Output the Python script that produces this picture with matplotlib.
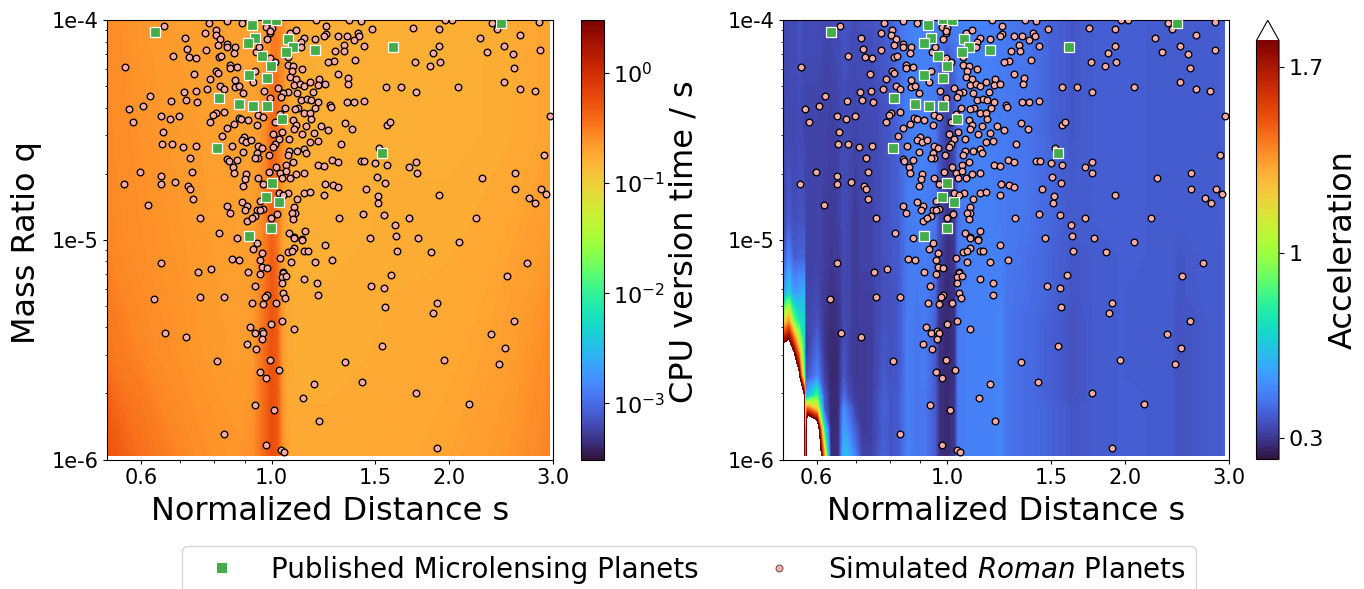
"""Microlensing timing maps: CPU time and acceleration over (s, q), with planet samples."""
import numpy as np
import matplotlib
matplotlib.use("Agg")
import matplotlib.pyplot as plt
from matplotlib.cm import ScalarMappable
from matplotlib.colors import LogNorm, Normalize
from matplotlib.lines import Line2D

# planets as log10(s), log10(q)
sim_log_s = [
    -.182, -.107, -.094, -.076, -.051, -.113, -.095, -.087, -.147, -.091, -.076, -.075, -.062, -.144, -.112, -.063,
    -.168, -.140, -.128, -.090, -.085, -.071, -.071, -.059, -.248, -.132, -.094, -.091, -.104, -.062, -.087, -.062,
    -.055, -.081, -.109, -.129, -.149, -.049, -.207, -.170, -.145, -.127, -.218, -.241, -.081, -.095, -.100, -.187,
    -.157, -.173, -.235, -.105, -.064, -.056, -.052, -.040, -.075, -.025, -.184, -.084, -.046, -.051, -.044, -.035,
    -.186, -.169, -.128, -.150, -.068, -.049, -.139, -.076, -.073, -.058, -.065, -.064, -.044, -.045, -.223, -.187,
    -.135, -.251, -.187, -.163, -.142, -.139, -.048, -.134, -.210, -.075, -.051, -.042, -.045, -.070, -.122, -.042,
    -.089, -.058,
    -.010, .000, -.003, -.008, -.003, .032, .041, .055, .076, .093, .073, .093, .089, .050, .049, -.027,
    -.021, -.003, .006, .027, .027, .036, .034, .051, -.028, .032, .042, .038, .048, .055, .065, .081,
    .079, .090, .071, -.031, -.013, .011, .027, .043, .019, .016, -.003, .050, .060, .067, .079, .023,
    .045, .039, .074, .055, .065, -.023, -.015, .014, .037, .067, .042, .038, .058, .084, .006, .002,
    .018, .052, .072, .096, .012, .029, .065, .078, .006, .002, -.023, -.016, -.024, -.004, -.023, -.028,
    .029, .027, .043, .055, .059, .037, .024, .007, -.005, .015, .024, .031, .041, .055, .018, -.023,
    -.015, .079, .089, .091, .104, .113, .089, .055, .065, .028, .012, .020, .043, -.020, -.025, -.014,
    -.019, .038, .039, .034, .009, -.028, -.034, -.001, .037, .030, .056, .038, .052,
    .131, .151, .170, .240, .284, .294, .306, .454, .374, .382, .422, .353, .113, .127, .146, .148,
    .139, .122, .156, .284, .123, .108, .394, .365, .409, .455, .273, .142, .105, .096, .243, .268,
    .286, .411, .113, .130, .129, .194, .220, .245, .316, .394, .422, .446, .156, .127, .139, .099,
    .101, .472, .125, .136, .195, .200, .117, .182, .462, .103, .113, .151, .157, .176, .195, .233,
    .245, .246, .178, .192, .356, .413, .413, .160, .284, .181, .180, .456, .466, .437, .447, .155,
    .191, .114, .233, .346, .209, .211, .248, .166,
    -.025, -.031, -.016, -.187, -.067, -.055, -.019, .014, .027, .038, .034, .055, .061, .073, .033, .090,
    .052, .038, .102, -.125, -.102, -.040, -.016, -.007, -.019, .019, .020, .017, .025, .055, .017, .077,
    -.029, .169, .191, .203, .213, .270, .317, .433, .399, -.199, -.121, -.081, -.008, -.011, .020, .023,
    .078, -.033, -.014, .008, .192, .280, .274, .017, -.001, -.036, -.017, -.028, -.014, .038, -.180, -.146,
    -.017, .411, .372, .396, -.041, -.027, .188, -.092, -.003, .125, .293, .386, -.019, .013, -.010, .072,
    .153, .245, .054, -.029, .004, .334, .080, -.081, -.010, .016, .021, .280,
]
sim_log_q = [
    -4.024, -4.011, -4.043, -4.002, -4.014, -4.059, -4.067, -4.085, -4.082, -4.112, -4.109, -4.120, -4.123, -4.129, -4.134, -4.150,
    -4.161, -4.169, -4.173, -4.166, -4.161, -4.204, -4.219, -4.214, -4.214, -4.245, -4.232, -4.238, -4.266, -4.273, -4.299, -4.305,
    -4.299, -4.314, -4.311, -4.322, -4.327, -4.333, -4.346, -4.368, -4.365, -4.372, -4.392, -4.406, -4.418, -4.424, -4.431, -4.437,
    -4.434, -4.448, -4.462, -4.465, -4.472, -4.447, -4.448, -4.456, -4.491, -4.477, -4.507, -4.526, -4.532, -4.547, -4.554, -4.547,
    -4.564, -4.564, -4.571, -4.577, -4.574, -4.598, -4.626, -4.633, -4.641, -4.638, -4.668, -4.697, -4.699, -4.722, -4.690, -4.708,
    -4.693, -4.746, -4.746, -4.738, -4.755, -4.770, -4.756, -4.816, -4.840, -4.845, -4.826, -4.846, -4.864, -4.879, -4.898, -4.916,
    -4.969, -4.990,
    -4.029, -4.036, -4.059, -4.087, -4.047, -4.059, -4.043, -4.082, -3.999, -4.024, -4.085, -4.062, -4.071, -4.100, -4.120, -4.143,
    -4.123, -4.173, -4.188, -4.166, -4.204, -4.208, -4.229, -4.223, -4.229, -4.260, -4.269, -4.296, -4.290, -4.299, -4.283, -4.266,
    -4.296, -4.290, -4.325, -4.280, -4.322, -4.307, -4.328, -4.330, -4.330, -4.348, -4.354, -4.365, -4.357, -4.363, -4.371, -4.400,
    -4.400, -4.406, -4.401, -4.421, -4.424, -4.433, -4.442, -4.428, -4.454, -4.450, -4.477, -4.497, -4.483, -4.480, -4.465, -4.518,
    -4.509, -4.520, -4.512, -4.501, -4.542, -4.542, -4.553, -4.550, -4.565, -4.576, -4.573, -4.580, -4.606, -4.614, -4.629, -4.626,
    -4.595, -4.614, -4.595, -4.586, -4.606, -4.644, -4.658, -4.668, -4.693, -4.697, -4.687, -4.717, -4.699, -4.696, -4.717, -4.720,
    -4.746, -4.658, -4.662, -4.746, -4.752, -4.760, -4.796, -4.788, -4.784, -4.788, -4.788, -4.796, -4.813, -4.823, -4.864, -4.858,
    -4.864, -4.852, -4.879, -4.876, -4.884, -4.892, -4.902, -4.901, -4.907, -4.969, -4.960, -4.986, -4.998,
    -3.999, -4.002, -4.039, -4.035, -4.041, -3.999, -3.997, -4.009, -4.011, -4.041, -4.067, -4.081, -4.070, -4.073, -4.059, -4.071,
    -4.088, -4.112, -4.118, -4.118, -4.140, -4.140, -4.115, -4.146, -4.155, -4.137, -4.150, -4.179, -4.185, -4.188, -4.191, -4.207,
    -4.188, -4.217, -4.246, -4.263, -4.290, -4.305, -4.305, -4.325, -4.305, -4.283, -4.311, -4.322, -4.368, -4.371, -4.371, -4.384,
    -4.396, -4.437, -4.469, -4.497, -4.477, -4.465, -4.564, -4.583, -4.615, -4.636, -4.644, -4.641, -4.641, -4.649, -4.658, -4.670,
    -4.647, -4.697, -4.714, -4.743, -4.718, -4.694, -4.767, -4.767, -4.797, -4.802, -4.834, -4.770, -4.791, -4.808, -4.834, -4.883,
    -4.887, -4.901, -4.901, -4.901, -4.933, -4.981, -4.990, -4.992,
    -5.016, -5.040, -5.059, -5.103, -5.086, -5.093, -5.093, -5.083, -5.054, -5.036, -5.051, -5.051, -5.051, -5.100, -5.100, -5.024,
    -5.001, -4.992, -5.092, -5.145, -5.131, -5.145, -5.124, -5.128, -5.157, -5.145, -5.150, -5.171, -5.166, -5.177, -5.195, -5.195,
    -5.212, -5.209, -5.218, -5.160, -5.051, -5.057, -5.011, -5.107, -5.166, -5.268, -5.261, -5.258, -5.253, -5.262, -5.244, -5.265,
    -5.251, -5.286, -5.294, -5.286, -5.306, -5.286, -5.332, -5.370, -5.381, -5.397, -5.415, -5.422, -5.426, -5.405, -5.422, -5.443,
    -5.450, -5.370, -5.429, -5.491, -5.475, -5.499, -5.485, -5.552, -5.549, -5.558, -5.549, -5.566, -5.601, -5.593, -5.630, -5.657,
    -5.646, -5.695, -5.719, -5.751, -5.775, -5.745, -5.824, -5.885, -5.933, -5.955, -5.965, -5.947,
]
pub_log_s = [-.197, -.033, -.007, .007, -.028, -.040, .028, .036, .025, .073, .206, .389, -.016, -.001,
             -.039, -.008, -.090, -.055, -.032, -.008, .017, -.093, .187, .000, -.010, .012, -.001, -.039]
pub_log_q = [-4.053, -4.021, -3.995, -3.998, -4.079, -4.105, -4.087, -4.120, -4.146, -4.137, -4.120, -4.011, -4.161, -4.207,
             -4.248, -4.263, -4.354, -4.381, -4.390, -4.389, -4.451, -4.580, -4.606, -4.740, -4.805, -4.829, -4.946, -4.981]

# CPU time map (seconds), coarse readings through the colour bar
time_s = [.5265, .6, .7, .8, .88, .93, .955, .98, 1.0, 1.02, 1.04, 1.06, 1.1, 1.25, 1.6, 2.0, 2.5, 2.955]
time_q = [1.04e-6, 3e-6, 1e-5, 3e-5, 1e-4]
time_grid = [
    [.52, .36, .28, .24, .23, .25, .33, .44, .57, .52, .26, .195, .18, .18, .185, .195, .225, .29],
    [.34, .28, .24, .22, .21, .22, .30, .42, .54, .47, .23, .185, .175, .175, .18, .185, .205, .26],
    [.28, .25, .23, .21, .20, .21, .25, .33, .44, .34, .21, .18, .17, .17, .175, .175, .19, .22],
    [.27, .24, .22, .21, .20, .20, .22, .27, .40, .38, .28, .195, .175, .17, .17, .17, .175, .195],
    [.26, .23, .21, .20, .195, .195, .20, .23, .26, .30, .26, .205, .18, .17, .17, .17, .175, .195],
]

# acceleration map, same idea; values above the scale stay white
accel_s = [.5265, .538, .549, .560, .571, .574, .578, .601, .617, .633, .654, .667, .680, .698, .716, .745, .780, .800, .826, .859,
           .887, .916, .953, .966, .998, 1.03, 1.044, 1.085, 1.172, 1.236, 1.26, 1.371, 1.50, 1.622, 1.778, 1.972, 2.133, 2.398, 2.46, 2.955]
accel_q = [1.04e-6, 1.38e-6, 1.70e-6, 1.95e-6, 2.40e-6, 3.09e-6, 3.47e-6, 4.27e-6, 5.75e-6, 8.3e-6, 1.26e-5, 3.16e-5, 6.3e-5, 1e-4]
accel_grid = [
    [2.5, 2.5, 2.5, 2.5, 2.5, 1.0, 2.5, 2.5, 1.4, .28, .28, .62, .60, .46, .33, .33, .40, .37, .38, .48,
     .44, .45, .38, .29, .27, .30, .46, .47, .47, .48, .44, .42, .40, .37, .38, .39, .39, .38, .36, .39],
    [2.5, 2.5, 2.5, 2.5, 2.5, .90, 2.5, 2.2, .80, .27, .28, .55, .48, .38, .31, .32, .39, .37, .38, .47,
     .44, .45, .38, .29, .27, .30, .46, .47, .47, .48, .44, .42, .40, .37, .38, .39, .39, .38, .36, .39],
    [2.5, 2.5, 2.5, 2.5, 2.3, .85, 1.5, 1.2, .40, .27, .28, .50, .42, .33, .31, .32, .40, .37, .38, .47,
     .44, .45, .38, .29, .27, .30, .46, .47, .47, .48, .44, .42, .40, .37, .38, .39, .39, .38, .36, .39],
    [2.5, 2.5, 2.5, 2.4, 1.9, .45, .60, .85, .38, .27, .28, .42, .35, .31, .31, .32, .39, .37, .38, .47,
     .44, .45, .38, .29, .27, .30, .46, .47, .47, .48, .44, .42, .39, .36, .38, .39, .39, .38, .36, .39],
    [2.5, 2.5, 2.5, 1.9, .90, .35, .36, .48, .33, .27, .28, .37, .33, .30, .31, .32, .38, .36, .37, .47,
     .44, .46, .38, .29, .27, .29, .46, .47, .47, .48, .44, .42, .39, .36, .38, .39, .38, .38, .36, .39],
    [2.2, 2.5, 1.8, 1.35, .75, .30, .32, .42, .30, .27, .28, .36, .33, .30, .31, .32, .37, .36, .37, .47,
     .44, .46, .38, .29, .27, .29, .46, .47, .47, .48, .44, .42, .39, .36, .38, .39, .38, .38, .36, .39],
    [1.7, 1.85, 1.5, 1.1, .72, .30, .31, .40, .30, .27, .28, .35, .33, .30, .31, .32, .37, .36, .37, .47,
     .44, .46, .38, .29, .27, .29, .46, .47, .47, .48, .44, .42, .39, .36, .38, .39, .38, .38, .36, .39],
    [1.1, 1.35, .90, .75, .70, .32, .33, .36, .30, .28, .29, .34, .33, .31, .32, .32, .36, .36, .37, .47,
     .44, .46, .39, .29, .27, .29, .46, .47, .47, .48, .44, .42, .39, .36, .38, .39, .38, .38, .36, .39],
    [.50, .68, .52, .55, .58, .32, .33, .34, .31, .29, .30, .34, .33, .31, .32, .32, .36, .36, .37, .46,
     .45, .46, .41, .31, .27, .29, .45, .47, .47, .47, .44, .43, .40, .37, .38, .39, .38, .38, .37, .39],
    [.36, .48, .38, .40, .40, .33, .33, .33, .32, .30, .31, .34, .33, .31, .33, .33, .36, .37, .38, .46,
     .46, .47, .43, .34, .28, .30, .44, .47, .47, .47, .45, .43, .40, .37, .38, .39, .39, .38, .37, .39],
    [.34, .38, .35, .36, .36, .33, .33, .33, .32, .31, .32, .35, .33, .31, .33, .33, .36, .37, .39, .46,
     .47, .47, .44, .36, .29, .31, .44, .47, .47, .46, .45, .44, .41, .38, .39, .39, .39, .38, .38, .39],
    [.35, .34, .33, .35, .33, .32, .33, .33, .33, .32, .33, .35, .34, .33, .34, .34, .36, .37, .40, .46,
     .47, .47, .45, .38, .31, .36, .43, .47, .47, .46, .45, .44, .40, .37, .39, .39, .39, .38, .38, .39],
    [.34, .35, .34, .36, .34, .33, .34, .34, .33, .33, .34, .36, .35, .34, .35, .35, .37, .38, .42, .47,
     .47, .47, .46, .42, .36, .42, .45, .47, .47, .46, .45, .44, .40, .37, .39, .39, .39, .38, .38, .39],
    [.34, .35, .34, .36, .35, .34, .35, .35, .34, .34, .35, .37, .36, .35, .36, .36, .38, .39, .43, .47,
     .48, .47, .47, .47, .46, .47, .47, .48, .47, .46, .45, .43, .40, .37, .39, .39, .39, .38, .38, .39],
]

s_major = [0.6, 1.0, 1.5, 2.0, 3.0]
s_major_labels = ["0.6", "1.0", "1.5", "2.0", "3.0"]
s_minor = [0.7, 0.8, 0.9]
q_ticks = [1e-6, 1e-5, 1e-4]
q_labels = ["1e-6", "1e-5", "1e-4"]
time_ticks = [1e-3, 1e-2, 1e-1, 1e0]
accel_ticks = [0.3, 1, 1.7]
accel_tick_labels = ["0.3", "1", "1.7"]

W, H = 1364, 589
TICK_FS = 15
LABEL_FS = 23
PINK = "#f8aaa5"
GREEN = "#43ad4a"


def px_axes(fig, x0, y0, x1, y1):
    """Axes from pixel box, y measured from the top of the picture."""
    return fig.add_axes([x0 / W, 1 - y1 / H, (x1 - x0) / W, (y1 - y0) / H])


def draw_panel(ax, xs, ys, grid, levels, norm, cmap):
    ax.contourf(xs, ys, np.array(grid), levels=levels, norm=norm, cmap=cmap)
    ax.set_xscale("log")
    ax.set_yscale("log")
    ax.set_xlim(0.5265, 3.0)
    ax.set_ylim(1e-6, 1e-4)
    ax.set_xticks(s_major)
    ax.set_xticklabels(s_major_labels)
    ax.set_xticks(s_minor, minor=True)
    ax.set_xticklabels([""] * len(s_minor), minor=True)
    ax.set_yticks(q_ticks)
    ax.set_yticklabels(q_labels)
    ax.tick_params(which="major", length=3.2, width=0.8, labelsize=TICK_FS, pad=3)
    ax.tick_params(which="minor", length=1.8, width=0.6)
    ax.set_xlabel("Normalized Distance s", fontsize=LABEL_FS)
    ax.xaxis.set_label_coords(0.5, -0.082, transform=ax.transAxes)
    ax.scatter(10 ** np.array(sim_log_s), 10 ** np.array(sim_log_q), s=23, c=PINK,
               edgecolors="black", linewidths=0.95, zorder=3)
    ax.scatter(10 ** np.array(pub_log_s), 10 ** np.array(pub_log_q), s=48, c=GREEN, marker="s",
               edgecolors="white", linewidths=0.9, zorder=4)


fig = plt.figure(figsize=(W / 100, H / 100), dpi=100)

turbo = plt.get_cmap("turbo")
turbo_over = turbo.with_extremes(over="white")
time_norm = LogNorm(vmin=3.1e-4, vmax=3.0)
accel_norm = Normalize(vmin=0.22, vmax=1.8)

ax1 = px_axes(fig, 107.3, 20.3, 553, 459.5)
draw_panel(ax1, time_s, time_q, time_grid,
           np.logspace(np.log10(3.1e-4), np.log10(3.0), 300), time_norm, turbo)
ax1.set_ylabel("Mass Ratio q", fontsize=LABEL_FS)
ax1.yaxis.set_label_coords(-0.146, 0.495, transform=ax1.transAxes)

ax2 = px_axes(fig, 783.3, 20.3, 1228.5, 459.5)
draw_panel(ax2, accel_s, accel_q, accel_grid, np.linspace(0.22, 1.8, 300), accel_norm, turbo_over)

cax1 = px_axes(fig, 581, 20.3, 603.5, 459.5)
cax1.set_facecolor(turbo(0.0))
cb1 = fig.colorbar(ScalarMappable(norm=time_norm, cmap=turbo), cax=cax1)
cb1.set_ticks(time_ticks)
cb1.ax.minorticks_off()
cb1.ax.tick_params(labelsize=TICK_FS + 1, length=3.5)
cb1.set_label("CPU version time / s", fontsize=LABEL_FS)
cb1.ax.yaxis.set_label_coords(3.87, 0.495, transform=cb1.ax.transAxes)

cax2 = px_axes(fig, 1256.5, 20.3, 1279, 459.5)
cb2 = fig.colorbar(ScalarMappable(norm=accel_norm, cmap=turbo_over), cax=cax2, extend="max", extendfrac=0.048)
cb2.set_ticks(accel_ticks)
cb2.set_ticklabels(accel_tick_labels)
cb2.ax.minorticks_off()
cb2.ax.tick_params(labelsize=TICK_FS + 1, length=3.5)
cb2.set_label("Acceleration", fontsize=LABEL_FS)
cb2.ax.yaxis.set_label_coords(3.18, 0.5, transform=cb2.ax.transAxes)

pub_handle = Line2D([], [], ls="none", marker="s", ms=6.5, mfc=GREEN, mec=GREEN, mew=0)
sim_handle = Line2D([], [], ls="none", marker="o", ms=5, mfc=PINK, mec="#555555", mew=0.7)
fig.legend([pub_handle, sim_handle], ["Published Microlensing Planets", r"Simulated $\mathit{Roman}$ Planets"],
           loc="upper left", bbox_to_anchor=(182 / W, 1 - 546 / H), borderaxespad=0,
           ncol=2, fontsize=20, borderpad=0.35,
           handlelength=2.2, handletextpad=0.66, columnspacing=1.79)

fig.savefig("out.png", dpi=100)
plt.close(fig)
